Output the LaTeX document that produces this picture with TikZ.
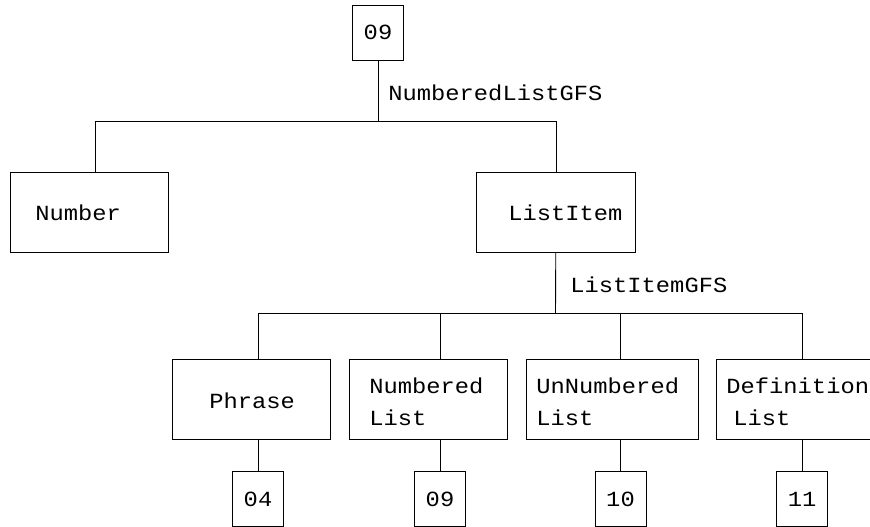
\documentclass[tikz,border=0pt]{standalone}
\usepackage{fontspec}
\newfontfamily\plotfont{Liberation Mono}[FakeStretch=1.1]
\usetikzlibrary{positioning}

\tikzset{
  box/.style={draw, minimum width=#1, minimum height=80pt, inner sep=0pt, anchor=north west},
  box/.default=158pt,
  leaf/.style={draw, minimum width=51pt, minimum height=55pt, inner sep=0pt},
  txt/.style={inner sep=0pt, align=left, anchor=base west},
}

\begin{document}
\begin{tikzpicture}[x=1pt, y=-1pt, line width=0.9pt, font=\plotfont\fontsize{21.6}{32}\selectfont]
\useasboundingbox (0,0) rectangle (870,527);
% top level
\node[leaf] (root) at (378,32.5) {09};
\node[box] (number) at (10,172) {};
\node[box=159pt] (listitem) at (476,172) {};
\node[txt] (numbertxt) at (35,220) {Number};
\node[txt] (listitemtxt) at (508,220) {ListItem};
\coordinate (bar1) at (378,121);
\draw (root) -- (bar1) -| ([xshift=6pt]number.north);
\draw (bar1) -| (listitem.north);
\node[txt] (nlgfs) at (388,100) {NumberedListGFS};
% second level
\node[box] (phrase) at (172,359) {};
\node[box] (nlist) at (349,359) {};
\node[box=172pt] (ulist) at (526,359) {};
\node[box] (dlist) at (716,359) {};
\node[txt] (phrasetxt) at (209,408) {Phrase};
\node[txt] (nlisttxt) at (369,425) {Numbered\\List};
\node[txt] (ulisttxt) at (536,425) {UnNumbered\\List};
\node[txt] (dlisttxt) at (726,425) {Definition\\\hspace{7pt}List};
\coordinate (bar2) at (555.5,313);
\draw (listitem) -- (bar2);
\node[txt] (ligfs) at (570,292) {ListItemGFS};
% leaves
\node[leaf] (leafa) at (258,499) {04};
\node[leaf] (leafb) at (440,499) {09};
\node[leaf] (leafc) at (620.5,499) {10};
\node[leaf] (leafd) at (802,499) {11};
\foreach \n/\l in {phrase/leafa, nlist/leafb, ulist/leafc, dlist/leafd}
  \draw (bar2) -| (\l |- \n.north) (\n.south -| \l) -- (\l);
\end{tikzpicture}
\end{document}
